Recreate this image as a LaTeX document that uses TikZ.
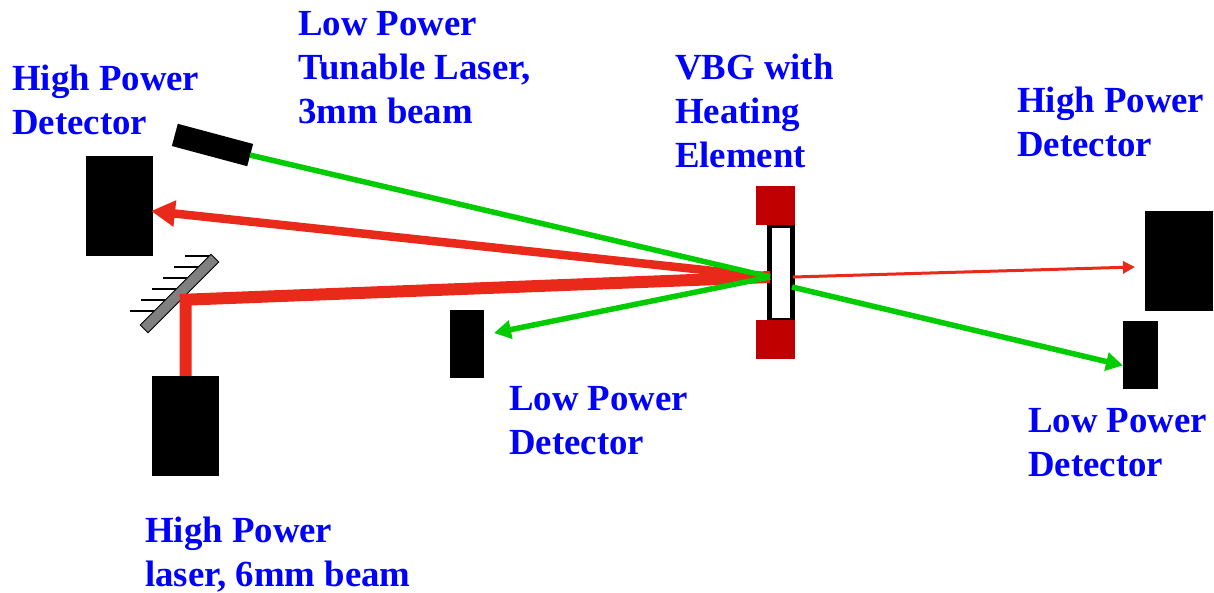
\documentclass[tikz,border=0pt]{standalone}
\usepackage{fontspec}
\usepackage{tikz}
\setmainfont{Liberation Serif}
\usetikzlibrary{arrows.meta}
\definecolor{beamred}{HTML}{E92A1B}
\definecolor{beamgreen}{HTML}{00CC00}
\definecolor{heatred}{HTML}{C00000}

\begin{document}
\begin{tikzpicture}[x=1pt,y=-1pt,
    box/.style = {fill=black, inner sep=0pt, outer sep=0pt, minimum width=#1},
    big/.style = {box=67.5pt, minimum height=100.5pt},
    small/.style = {box=34.5pt, minimum height=67.5pt},
    heater/.style = {fill=heatred, inner sep=0pt, minimum width=39pt, minimum height=39pt},
    tag/.style = {anchor=base west, align=left, inner sep=0pt, text=blue, font=\fontsize{36.8}{44}\selectfont\bfseries},
    red1/.style = {draw=beamred, line width=12pt, miter limit=10},
    red2/.style = {draw=beamred, line width=8.5pt, -{Triangle[length=24pt,width=25pt]}},
    red3/.style = {draw=beamred, line width=3pt, -{Triangle[length=12pt,width=12pt]}},
    green1/.style = {draw=beamgreen, line width=5.5pt},
    green2/.style = {draw=beamgreen, line width=5.5pt, -{Triangle[length=17pt,width=18pt]}}]
                \useasboundingbox (0,0) rectangle (1214,592);
                % detectors and lasers
                \node[big] (hpdetleft) at (119.5,206) {};
                \node[big] (hpdetright) at (1179,261) {};
                \node[big] (hplaser) at (185.5,426) {};
                \node[small] (lpdetleft) at (467,344) {};
                \node[small] (lpdetright) at (1140.5,355) {};
                \node[box=78pt, minimum height=23pt, rotate=-15] (lplaser) at (212.5,145) {};
                % grating
                \node[draw=black, line width=5pt, fill=white, inner sep=0pt, minimum width=23pt, minimum height=95pt] (vbg) at (781,272.5) {};
                \node[heater] (heattop) at (775.5,205.5) {};
                \node[heater] (heatbottom) at (775.5,339) {};
                % mirror
                \foreach \i in {0,...,5}
                    \draw[line width=2pt] (185-11*\i,255.7+11*\i) -- ++(25,0);
                \node[draw=black, fill=gray, line width=1pt, inner sep=0pt, minimum width=100pt, minimum height=11pt, rotate=45] (mirror) at (179.5,293.5) {};
                % beam points
                \coordinate (vbgin) at (770,277);
                \coordinate (vbgout) at (793,277);
                \coordinate (vbgoutg) at (792,287);
                \coordinate (turn) at (185.5,299.7);
                \coordinate (hpin) at (151,211);
                \coordinate (hprightin) at (1135,267);
                \coordinate (lpin) at (494,333);
                \coordinate (lprightin) at (1123,365.5);
                % beams
                \draw[red1] (hplaser.north) -- (turn) -- (vbgin);
                \draw[red2] (vbgin) -- (hpin);
                \draw[red3] (vbgout) -- (hprightin);
                \draw[green1] (lplaser.east) -- (vbgin);
                \draw[green2] (vbgin) -- (lpin);
                \draw[green2] (vbgoutg) -- (lprightin);
                % labels
                \node[tag] (hpdetlefttag) at (12,134) {High Power\\Detector};
                \node[tag] (lplasertag) at (298,123) {Low Power\\Tunable Laser,\\3mm beam};
                \node[tag] (vbgtag) at (675,167) {VBG with\\Heating\\Element};
                \node[tag] (hpdetrighttag) at (1017,156) {High Power\\Detector};
                \node[tag] (lpdetlefttag) at (509,454) {Low Power\\Detector};
                \node[tag] (lpdetrighttag) at (1028,476) {Low Power\\Detector};
                \node[tag] (hplasertag) at (145,586) {High Power\\laser, 6mm beam};
            \end{tikzpicture}
\end{document}
